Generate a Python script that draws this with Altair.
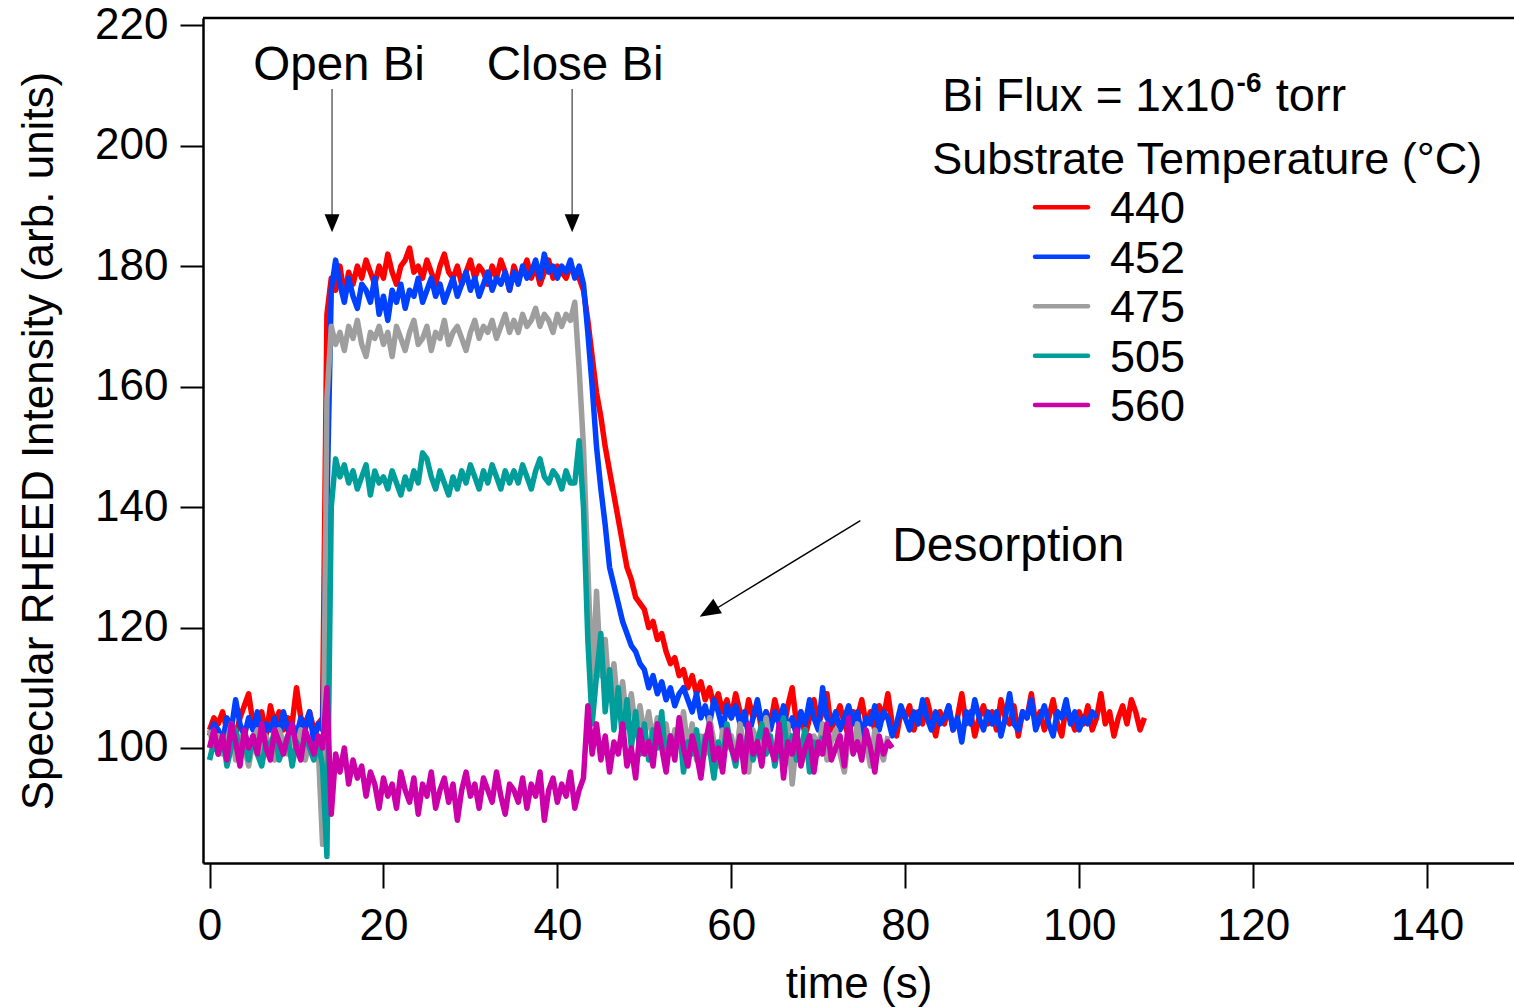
import altair as alt
import pandas as pd

# ---------------- data (0.5 s sampling) ----------------
temps = ["440", "452", "475", "505", "560"]
colors = ["#FF0000", "#0040FF", "#9E9E9E", "#009E9A", "#CC00A8"]
t_step = 0.5

i440 = [
    103, 105, 104, 106, 103, 104, 102, 105, 107, 109,
    104, 103, 106, 102, 107, 104, 106, 103, 105, 104,
    110, 105, 104, 106, 103, 104, 105, 172, 178, 176,
    180, 175, 179, 177, 180, 178, 181, 179, 177, 180,
    178, 182, 179, 177, 180, 181, 183, 179, 180, 178,
    181, 179, 177, 180, 182, 179, 178, 180, 177, 179,
    181, 178, 180, 179, 177, 180, 178, 181, 179, 176,
    180, 178, 179, 181, 178, 180, 177, 179, 181, 178,
    180, 179, 178, 180, 179, 178, 176, 171, 165, 159,
    155, 150, 146, 142, 138, 134, 130, 128, 125, 124,
    123, 120, 121, 118, 119, 116, 114, 115, 112, 113,
    110, 112, 109, 111, 108, 110, 107, 109, 106, 108,
    105, 109, 106, 104, 108, 105, 107, 103, 106, 104,
    108, 105, 103, 107, 110, 104, 106, 102, 105, 108,
    104, 106, 109, 103, 105, 107, 104, 102, 106, 105,
    108, 104, 106, 103, 107, 105, 109, 104, 102, 106,
    105, 107, 103, 106, 104, 108, 105, 102, 106, 104,
    107, 103, 105, 109, 104, 106, 102, 105, 107, 104,
    106, 103, 108, 105, 104, 107, 102, 106, 105, 109,
    104, 106, 103, 105, 108, 104, 102, 107, 105, 103,
    106, 104, 107, 103, 105, 109, 104, 106, 102, 105,
    107, 104, 108, 106, 103, 105,
]

i452 = [
    102, 104, 103, 101, 105, 103, 108, 104, 102, 105,
    103, 106, 101, 104, 103, 105, 102, 106, 103, 104,
    102, 105, 103, 106, 101, 104, 103, 140, 176, 181,
    177, 174, 178, 175, 173, 177, 176, 174, 178, 172,
    175, 171, 176, 174, 177, 173, 176, 175, 178, 174,
    176, 178, 175, 177, 174, 176, 178, 175, 177, 179,
    176, 178, 175, 177, 179, 176, 178, 177, 179, 176,
    179, 177, 180, 178, 179, 181, 178, 182, 179, 180,
    178, 180, 179, 181, 178, 180, 177, 169, 160, 150,
    143, 137, 130, 127, 124, 121, 119, 117, 116, 114,
    113, 110, 112, 109, 111, 108, 110, 107, 109, 110,
    108, 106, 109, 105, 107, 104, 108, 106, 103, 107,
    105, 107, 104, 106, 102, 105, 108, 104, 106, 103,
    106, 104, 107, 103, 105, 102, 106, 104, 108, 105,
    103, 110, 105, 104, 106, 103, 105, 107, 104, 106,
    102, 105, 104, 107, 103, 106, 105, 102, 104, 107,
    105, 103, 106, 104, 108, 105, 103, 106, 104, 105,
    107, 103, 105, 101, 106, 104, 108, 105, 103, 106,
    104, 106, 102, 105, 109, 104, 103, 106, 105, 108,
    103, 105, 107, 104, 102, 106, 105, 108, 104, 106,
    103, 105, 104, 106, 105,
]

i475 = [
    103, 100, 102, 99, 101, 104, 98, 102, 100, 97,
    101, 103, 99, 102, 100, 98, 103, 101, 99, 102,
    100, 103, 98, 101, 99, 100, 84, 158, 170, 167,
    169, 166, 170, 168, 171, 167, 165, 169, 168, 170,
    167, 169, 165, 170, 168, 166, 169, 171, 167, 168,
    170, 166, 169, 168, 171, 167, 169, 170, 168, 166,
    169, 171, 168, 170, 169, 171, 168, 170, 172, 169,
    171, 169, 172, 170, 171, 173, 170, 172, 171, 169,
    172, 170, 172, 171, 174, 163, 150, 130, 110, 126,
    112, 118, 108, 114, 106, 111, 104, 109, 103, 107,
    102, 106, 101, 105, 100, 104, 99, 103, 101, 106,
    100, 104, 98, 102, 99, 105, 101, 97, 103, 100,
    102, 98, 104, 100, 96, 103, 101, 99, 105, 100,
    98, 102, 100, 104, 94, 101, 99, 103, 97, 102,
    100, 104, 98, 101, 103, 99, 96, 102, 100, 104,
    99, 101, 97, 103, 100, 98, 102,
]

i505 = [
    98, 101, 99, 102, 97, 100, 103, 99, 101, 98,
    102, 99, 97, 101, 100, 103, 98, 100, 102, 97,
    101, 99, 102, 100, 98, 101, 97, 82, 140, 148,
    145, 147, 144, 146, 143, 145, 147, 142, 146, 144,
    145, 143, 146, 144, 142, 145, 143, 146, 144, 149,
    148, 145, 143, 146, 144, 142, 145, 143, 146, 144,
    147, 145, 143, 146, 144, 147, 145, 143, 146, 144,
    146, 144, 147, 145, 143, 146, 148, 145, 144, 146,
    145, 143, 146, 144, 144, 151, 140, 118, 104, 112,
    119, 106, 113, 103, 110, 101, 108, 100, 106, 99,
    104, 98, 103, 100, 106, 97, 102, 99, 104, 96,
    101, 99, 103, 97, 102, 100, 95, 101, 98, 104,
    100, 97, 102, 99, 103, 98, 101, 104, 99, 102,
    97, 101, 105, 99, 102, 98, 100, 103, 96, 101,
    99, 102,
]

i560 = [
    100, 103, 99, 102, 98, 104, 101, 97, 103, 100,
    102, 99, 104, 100, 98, 103, 101, 99, 102, 104,
    100, 98, 103, 101, 99, 102, 100, 110, 89, 99,
    96, 100, 94, 98, 95, 97, 92, 96, 94, 90,
    95, 92, 94, 90, 96, 93, 91, 95, 89, 94,
    92, 96, 90, 93, 95, 91, 94, 88, 93, 96,
    92, 94, 90, 95, 93, 91, 96, 92, 89, 94,
    93, 91, 95, 90, 94, 92, 96, 88, 93, 95,
    91, 94, 92, 96, 90, 93, 95, 107, 99, 104,
    98, 102, 96, 101, 99, 104, 97, 100, 95, 103,
    99, 101, 97, 104, 100, 96, 102, 98, 105, 100,
    97, 102, 99, 95, 101, 104, 98, 100, 96, 103,
    100, 98, 102, 96, 104, 99, 101, 97, 103, 100,
    98, 104, 95, 101, 99, 103, 97, 100, 102, 96,
    101, 99, 104, 98, 100, 102, 97, 105, 99, 101,
    98, 103, 100, 96, 102, 99, 101, 100,
]

series = [i440, i452, i475, i505, i560]

x_ticks = [0, 20, 40, 60, 80, 100, 120, 140]
y_ticks = [100, 120, 140, 160, 180, 200, 220]

# annotations (data coordinates)
ann_arrow_x = [14.09, 41.70]
ann_arrow_top = 209.4
ann_arrow_bottom = 188.0
ann_head_y = 187.14
ann_labels = ["Open Bi", "Close Bi"]
ann_label_x = [14.9, 42.05]
ann_label_y = 210.9

des_start = (74.84, 137.75)
des_tip = (57.2, 122.2)
des_head = (57.39, 122.67)
des_text = ("Desorption", 78.5, 131.0)

flux_main = ("Bi Flux = 1x10", 84.26, 205.7)
flux_sup = ("-6", 118.1, 208.9)
flux_unit = ("torr", 122.6, 205.7)
legend_title = ("Substrate Temperature (°C)", 83.11, 195.3)
legend_rows_y = [189.79, 181.57, 173.36, 165.14, 156.93]

# ---------------- build table ----------------
rows = []
for temp, vals in zip(temps, series):
    for i, v in enumerate(vals):
        rows.append({"temp": temp, "time": i * t_step, "intensity": v, "order": i})
df = pd.DataFrame(rows)

FONT = "Liberation Sans"
xscale = alt.Scale(domain=[-0.75, 150.0], nice=False, zero=False)
yscale = alt.Scale(domain=[80.9, 221.2], nice=False, zero=False)
cscale = alt.Scale(domain=temps, range=colors)

x_axis = alt.Axis(values=x_ticks, title="time (s)", grid=False, labelFont=FONT, titleFont=FONT,
                  labelFontSize=44, titleFontSize=44, titleFontWeight="normal",
                  labelColor="black", titleColor="black", tickColor="black", domainColor="black",
                  tickSize=25, tickWidth=2, domainWidth=2.5, labelPadding=16, titlePadding=14,
                  labelFlush=False)
y_axis = alt.Axis(values=y_ticks, title="Specular RHEED Intensity (arb. units)", grid=False,
                  labelFont=FONT, titleFont=FONT, labelFontSize=44, titleFontSize=44,
                  titleFontWeight="normal", labelColor="black", titleColor="black",
                  tickColor="black", domainColor="black", tickSize=23, tickWidth=2,
                  domainWidth=2.5, labelPadding=12, titlePadding=33, labelFlush=False)

lines = alt.Chart(df).mark_line(strokeWidth=5.5, strokeJoin="round", clip=True).encode(
    x=alt.X("time:Q", scale=xscale, axis=x_axis),
    y=alt.Y("intensity:Q", scale=yscale, axis=y_axis),
    color=alt.Color("temp:N", scale=cscale, legend=None),
    order="order:Q",
)

one = pd.DataFrame({"a": [0]})
top_rule = alt.Chart(one).mark_rule(color="black", strokeWidth=2.5).encode(
    x=alt.value(0), x2=alt.value(1311), y=alt.value(0)
)

ARROW_DOWN = "M0,1L0.83,-1L-0.83,-1Z"
ARROW_UP = "M0,-1L0.8,1L-0.8,1Z"

arr_df = pd.DataFrame({"x": ann_arrow_x, "y1": [ann_arrow_top] * 2, "y2": [ann_arrow_bottom] * 2,
                       "yh": [ann_head_y] * 2, "label": ann_labels, "lx": ann_label_x,
                       "ly": [ann_label_y] * 2})
arr_lines = alt.Chart(arr_df).mark_rule(color="#6E6E6E", strokeWidth=1.6).encode(
    x=alt.X("x:Q", scale=xscale), y=alt.Y("y1:Q", scale=yscale), y2="y2:Q"
)
arr_heads = alt.Chart(arr_df).mark_point(shape=ARROW_DOWN, filled=True, color="black",
                                         opacity=1, size=324, strokeWidth=0).encode(
    x=alt.X("x:Q", scale=xscale), y=alt.Y("yh:Q", scale=yscale)
)
arr_text = alt.Chart(arr_df).mark_text(font=FONT, fontSize=47.5, align="center",
                                        baseline="alphabetic", color="black").encode(
    x=alt.X("lx:Q", scale=xscale), y=alt.Y("ly:Q", scale=yscale), text="label:N"
)

des_df = pd.DataFrame({"x": [des_start[0]], "y": [des_start[1]], "x2": [des_tip[0]],
                       "y2": [des_tip[1]], "hx": [des_head[0]], "hy": [des_head[1]],
                       "t": [des_text[0]], "tx": [des_text[1]], "ty": [des_text[2]]})
des_line = alt.Chart(des_df).mark_rule(color="black", strokeWidth=1.4).encode(
    x=alt.X("x:Q", scale=xscale), y=alt.Y("y:Q", scale=yscale), x2="x2:Q", y2="y2:Q"
)
des_head_mk = alt.Chart(des_df).mark_point(shape=ARROW_UP, filled=True, color="black",
                                           opacity=1, size=441, strokeWidth=0).encode(
    x=alt.X("hx:Q", scale=xscale), y=alt.Y("hy:Q", scale=yscale), angle=alt.value(239)
)
des_txt = alt.Chart(des_df).mark_text(font=FONT, fontSize=48, align="left",
                                      baseline="alphabetic", color="black").encode(
    x=alt.X("tx:Q", scale=xscale), y=alt.Y("ty:Q", scale=yscale), text="t:N"
)

txt_df = pd.DataFrame({
    "t": [flux_main[0], flux_unit[0], legend_title[0]],
    "x": [flux_main[1], flux_unit[1], legend_title[1]],
    "y": [flux_main[2], flux_unit[2], legend_title[2]],
    "fs": [46, 47, 45],
})
big_txt = alt.Chart(txt_df).mark_text(font=FONT, align="left",
                                      baseline="alphabetic", color="black").encode(
    x=alt.X("x:Q", scale=xscale), y=alt.Y("y:Q", scale=yscale), text="t:N",
    size=alt.Size("fs:Q", scale=None, legend=None),
)
sup_df = pd.DataFrame({"t": [flux_sup[0]], "x": [flux_sup[1]], "y": [flux_sup[2]]})
sup_txt = alt.Chart(sup_df).mark_text(font=FONT, fontSize=28, fontWeight="bold", align="left",
                                      baseline="alphabetic", color="black").encode(
    x=alt.X("x:Q", scale=xscale), y=alt.Y("y:Q", scale=yscale), text="t:N"
)

leg_df = pd.DataFrame({"temp": temps, "y": legend_rows_y})
leg_sym = alt.Chart(leg_df).mark_rule(strokeWidth=4.5, strokeCap="round").encode(
    x=alt.value(832), x2=alt.value(885), y=alt.Y("y:Q", scale=yscale),
    color=alt.Color("temp:N", scale=cscale, legend=None),
)
leg_lab = alt.Chart(leg_df).mark_text(font=FONT, fontSize=45, align="left", baseline="middle",
                                      color="black", dy=2).encode(
    x=alt.value(907), y=alt.Y("y:Q", scale=yscale), text="temp:N"
)

chart = alt.layer(
    lines, top_rule, arr_lines, arr_heads, arr_text, des_line, des_head_mk, des_txt,
    big_txt, sup_txt, leg_sym, leg_lab
).properties(
    width=1311, height=845,
    padding={"left": 203, "top": 18, "right": 0, "bottom": 144},
    autosize=alt.AutoSizeParams(type="none"),
).configure_view(stroke=None).configure(background="white")

chart.save("out.html", embed_options={"renderer": "svg", "actions": False})
